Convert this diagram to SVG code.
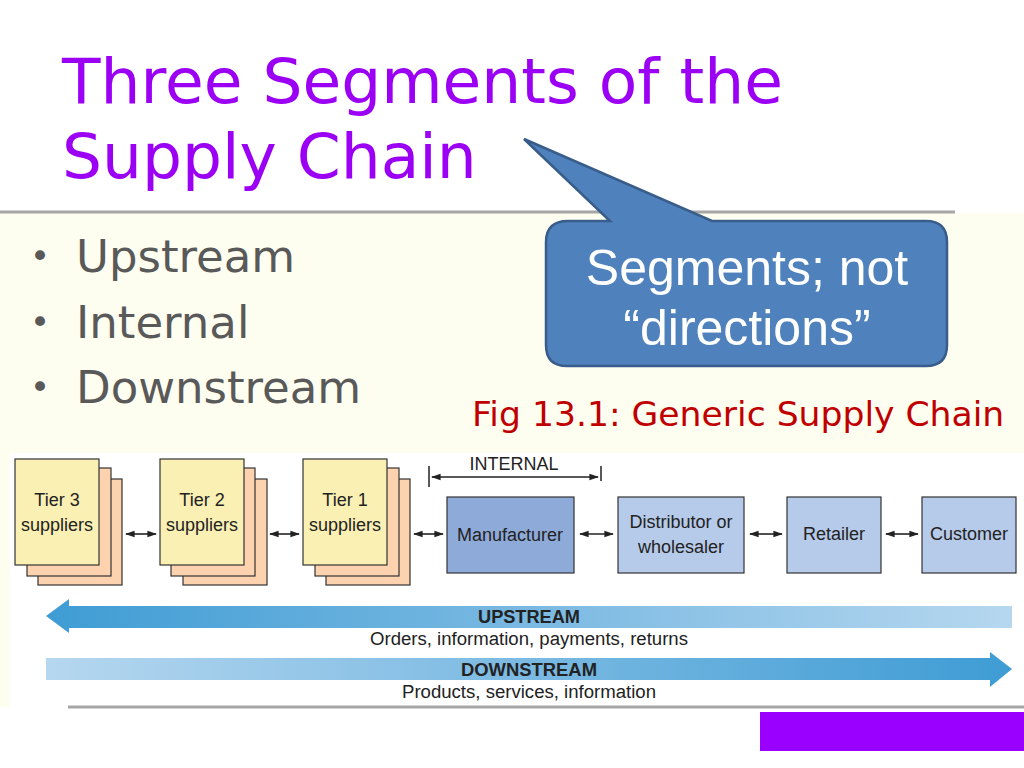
<svg xmlns="http://www.w3.org/2000/svg" width="1024" height="768" viewBox="0 0 1024 768">
<defs>
<style>
.title{font-family:"DejaVu Sans",Verdana,sans-serif;font-size:63px;fill:#9B00F5}
.bul{font-family:"DejaVu Sans",Verdana,sans-serif;font-size:45px;fill:#595959}
.dot{font-family:"DejaVu Sans",Verdana,sans-serif;font-size:34px;fill:#595959}
.call{font-family:"Liberation Sans",Arial,sans-serif;font-size:50px;fill:#ffffff;text-anchor:middle}
.fig{font-family:"DejaVu Sans",Verdana,sans-serif;font-size:34.6px;fill:#C00000}
.lbl{font-family:"Liberation Sans",Arial,sans-serif;font-size:18px;fill:#222;text-anchor:middle}
.blbl{font-family:"Liberation Sans",Arial,sans-serif;font-size:18px;font-weight:bold;fill:#222;text-anchor:middle}
.front{fill:#FAF0B4;stroke:#333;stroke-width:1.2}
.back{fill:#FCD3AE;stroke:#333;stroke-width:1.2}
.dark{fill:#8EAAD8;stroke:#333;stroke-width:1.2}
.light{fill:#B6CAEA;stroke:#333;stroke-width:1.2}
.conn{stroke:#222;stroke-width:1.6;fill:none;marker-start:url(#ah);marker-end:url(#ah)}
</style>
<marker id="ah" viewBox="0 0 10 10" refX="9" refY="5" markerWidth="6" markerHeight="6" orient="auto-start-reverse" markerUnits="strokeWidth">
<path d="M0,1.5 L10,5 L0,8.5 Z" fill="#222"/>
</marker>
<linearGradient id="gUp" x1="0" y1="0" x2="1" y2="0">
<stop offset="0" stop-color="#3E9CD4"/>
<stop offset="0.5" stop-color="#7AB9E2"/>
<stop offset="1" stop-color="#B6D7EF"/>
</linearGradient>
<linearGradient id="gDown" x1="0" y1="0" x2="1" y2="0">
<stop offset="0" stop-color="#B6D7EF"/>
<stop offset="0.5" stop-color="#7AB9E2"/>
<stop offset="1" stop-color="#3E9CD4"/>
</linearGradient>
</defs>

<rect x="0" y="0" width="1024" height="768" fill="#ffffff"/>
<rect x="0" y="213" width="1024" height="240" fill="#FEFEF0"/>
<rect x="0" y="453" width="10" height="254" fill="#FEFEF0"/>
<line x1="0" y1="212" x2="955" y2="212" stroke="#A6A6A6" stroke-width="3"/>
<line x1="68" y1="707" x2="1024" y2="707" stroke="#A6A6A6" stroke-width="3"/>
<rect x="760" y="712" width="264" height="39" fill="#9900FF"/>

<g id="title">
<text class="title" x="62" y="103">Three Segments of the</text>
<text class="title" x="62" y="178">Supply Chain</text>
</g>

<g id="bullets">
<text class="dot" x="30" y="268">•</text>
<text class="bul" x="76" y="272">Upstream</text>
<text class="dot" x="30" y="334">•</text>
<text class="bul" x="76" y="338">Internal</text>
<text class="dot" x="30" y="399">•</text>
<text class="bul" x="76" y="403">Downstream</text>
</g>

<g id="callout">
<path d="M568,221 L610,221 L524,139 L712,221 L926,221 Q947,221 947,242 L947,345 Q947,366 926,366 L567,366 Q546,366 546,345 L546,242 Q546,221 568,221 Z" fill="#4F81BD" stroke="#385D8A" stroke-width="2.5"/>
<text class="call" x="747" y="285">Segments; not</text>
<text class="call" x="747" y="345">“directions”</text>
</g>

<g id="figcaption">
<text class="fig" x="472" y="426">Fig 13.1: Generic Supply Chain</text>
</g>

<g id="tier3">
<rect class="back" x="38" y="479" width="84" height="106"/>
<rect class="back" x="27" y="468" width="84" height="108"/>
<rect class="front" x="15" y="459" width="84" height="106"/>
<text class="lbl" x="57" y="506">Tier 3</text>
<text class="lbl" x="57" y="531">suppliers</text>
</g>
<g id="tier2">
<rect class="back" x="183" y="479" width="84" height="106"/>
<rect class="back" x="171" y="468" width="84" height="108"/>
<rect class="front" x="160" y="459" width="84" height="106"/>
<text class="lbl" x="202" y="506">Tier 2</text>
<text class="lbl" x="202" y="531">suppliers</text>
</g>
<g id="tier1">
<rect class="back" x="326" y="479" width="84" height="106"/>
<rect class="back" x="315" y="468" width="84" height="108"/>
<rect class="front" x="303" y="459" width="84" height="106"/>
<text class="lbl" x="345" y="506">Tier 1</text>
<text class="lbl" x="345" y="531">suppliers</text>
</g>
<g id="manufacturer">
<rect class="dark" x="447" y="497" width="127" height="76"/>
<text class="lbl" x="510" y="541">Manufacturer</text>
</g>
<g id="distributor">
<rect class="light" x="618" y="497" width="126" height="76"/>
<text class="lbl" x="681" y="528">Distributor or</text>
<text class="lbl" x="681" y="553">wholesaler</text>
</g>
<g id="retailer">
<rect class="light" x="787" y="497" width="94" height="76"/>
<text class="lbl" x="834" y="540">Retailer</text>
</g>
<g id="customer">
<rect class="light" x="922" y="497" width="94" height="76"/>
<text class="lbl" x="969" y="540">Customer</text>
</g>

<g id="internal">
<line x1="429" y1="466" x2="429" y2="487" stroke="#222" stroke-width="1.5"/>
<line x1="601" y1="466" x2="601" y2="481" stroke="#222" stroke-width="1.5"/>
<line class="conn" x1="432" y1="477" x2="598" y2="477"/>
<text class="lbl" x="514" y="470">INTERNAL</text>
</g>

<g id="connectors">
<line class="conn" x1="126" y1="534" x2="156" y2="534"/>
<line class="conn" x1="270" y1="534" x2="299" y2="534"/>
<line class="conn" x1="414" y1="534" x2="443" y2="534"/>
<line class="conn" x1="580" y1="534" x2="613" y2="534"/>
<line class="conn" x1="750" y1="534" x2="782" y2="534"/>
<line class="conn" x1="886" y1="534" x2="918" y2="534"/>
</g>

<g id="upstream">
<path d="M46,616 L69,599 L69,606 L1012,606 L1012,628 L69,628 L69,633 Z" fill="url(#gUp)"/>
<text class="blbl" x="529" y="623" textLength="102" lengthAdjust="spacingAndGlyphs">UPSTREAM</text>
<text class="lbl" x="529" y="645" textLength="318" lengthAdjust="spacingAndGlyphs">Orders, information, payments, returns</text>
</g>
<g id="downstream">
<path d="M46,658 L990,658 L990,652 L1012,669 L990,687 L990,680 L46,680 Z" fill="url(#gDown)"/>
<text class="blbl" x="529" y="676" textLength="136" lengthAdjust="spacingAndGlyphs">DOWNSTREAM</text>
<text class="lbl" x="529" y="698" textLength="254" lengthAdjust="spacingAndGlyphs">Products, services, information</text>
</g>
</svg>
